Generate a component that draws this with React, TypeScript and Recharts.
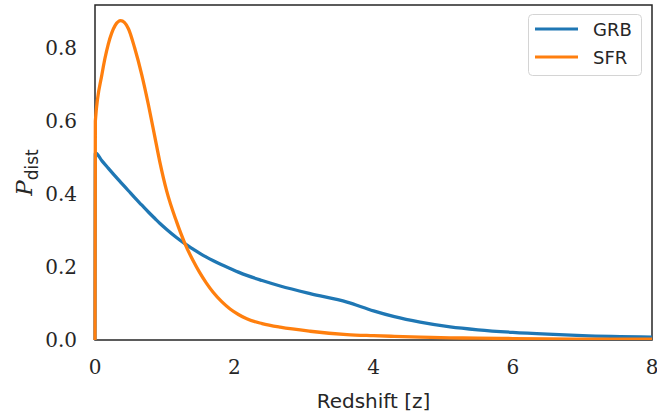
import React from "react";
import { LineChart, Line, XAxis, YAxis, ReferenceArea } from "recharts";

const redshift = [0, 0.005, 0.1, 0.19, 0.29, 0.37, 0.48, 0.57, 0.67, 0.77, 0.86, 0.93, 1.03, 1.17, 1.29, 1.41, 1.5, 1.6, 1.7, 1.82, 1.94, 2.06, 2.18, 2.4, 2.66, 3.09, 3.62, 4.0, 4.3, 4.67, 5.1, 5.5, 6.0, 6.5, 7.0, 8.0];
const grbValues = [0, 0.513, 0.491, 0.471, 0.449, 0.432, 0.409, 0.39, 0.37, 0.35, 0.333, 0.32, 0.303, 0.281, 0.264, 0.249, 0.238, 0.227, 0.217, 0.206, 0.196, 0.186, 0.177, 0.163, 0.148, 0.127, 0.104, 0.08, 0.064, 0.049, 0.036, 0.028, 0.021, 0.016, 0.012, 0.008];
const sfrValues = [0, 0.6, 0.728, 0.81, 0.862, 0.875, 0.853, 0.8, 0.728, 0.642, 0.556, 0.489, 0.408, 0.325, 0.265, 0.217, 0.186, 0.156, 0.13, 0.105, 0.085, 0.07, 0.058, 0.045, 0.035, 0.024, 0.015, 0.012, 0.01, 0.008, 0.006, 0.005, 0.004, 0.003, 0.0025, 0.002];
const xTicks = [0, 2, 4, 6, 8];
const yTicks = [0, 0.2, 0.4, 0.6, 0.8];
const seriesNames = ["GRB", "SFR"];
const seriesColors = ["#1f77b4", "#ff7f0e"];

const data = redshift.map((z, i) => ({ z, GRB: grbValues[i], SFR: sfrValues[i] }));

const TEXT = "#262626";
const serif = "'DejaVu Serif', serif";
const sans = "'DejaVu Sans', sans-serif";

const YLabel = (props: any) => {
  const vb = props.viewBox || {};
  const cx = 32;
  const cy = vb.y + vb.height / 2;
  return (
    <text x={cx} y={cy} transform={`rotate(-90 ${cx} ${cy})`} textAnchor="middle" fill={TEXT}>
      <tspan fontFamily={serif} fontStyle="italic" fontSize={23}>P</tspan>
      <tspan fontFamily={sans} fontSize={17} dy={6}>dist</tspan>
    </text>
  );
};

const XLabel = (props: any) => {
  const vb = props.viewBox || {};
  const cx = vb.x + vb.width / 2;
  return (
    <text x={cx} y={408} textAnchor="middle" fill={TEXT} fontFamily={sans} fontSize={20}>
      Redshift [z]
    </text>
  );
};

const LegendBox = () => (
  <svg width={115} height={63} style={{ display: "block" }}>
    <rect x={0.5} y={0.5} width={113} height={61} rx={4} ry={4} fill="#fff" stroke="#d4d4d4" strokeWidth={1} />
    {seriesNames.map((name, i) => (
      <g key={name}>
        <line x1={7} x2={50} y1={15 + i * 28} y2={15 + i * 28} stroke={seriesColors[i]} strokeWidth={3.2} />
        <text x={65} y={22 + i * 28} fontFamily={sans} fontSize={18} fill={TEXT}>{name}</text>
      </g>
    ))}
  </svg>
);

export default function App() {
  return (
    <div style={{ position: "absolute", left: 0, top: 0, width: 657, height: 420, background: "#fff" }}>
      <LineChart width={657} height={420} data={data} margin={{ top: 5, right: 5, left: 0, bottom: 0 }}>
        <XAxis
          dataKey="z"
          type="number"
          domain={[0, 8]}
          ticks={xTicks}
          height={80}
          axisLine={false}
          tickLine={false}
          tickSize={0}
          tickMargin={20}
          tick={{ fill: TEXT, fontFamily: serif, fontSize: 20 }}
          label={<XLabel />}
        />
        <YAxis
          type="number"
          domain={[0, 0.918]}
          ticks={yTicks}
          allowDataOverflow
          width={95}
          axisLine={false}
          tickLine={false}
          tickSize={0}
          tickMargin={18}
          tickFormatter={(v: number) => v.toFixed(1)}
          tick={{ fill: TEXT, fontFamily: serif, fontSize: 20 }}
          label={<YLabel />}
        />
        <Line dataKey="GRB" name={seriesNames[0]} type="monotone" stroke={seriesColors[0]} strokeWidth={3.3} dot={false} isAnimationActive={false} />
        <Line dataKey="SFR" name={seriesNames[1]} type="monotone" stroke={seriesColors[1]} strokeWidth={3.3} dot={false} isAnimationActive={false} />
        <ReferenceArea x1={0} x2={8} y1={0} y2={0.918} fill="none" stroke="#262626" strokeWidth={1.5} ifOverflow="visible" />
      </LineChart>
      <div style={{ position: "absolute", left: 528, top: 14 }}>
        <LegendBox />
      </div>
    </div>
  );
}
